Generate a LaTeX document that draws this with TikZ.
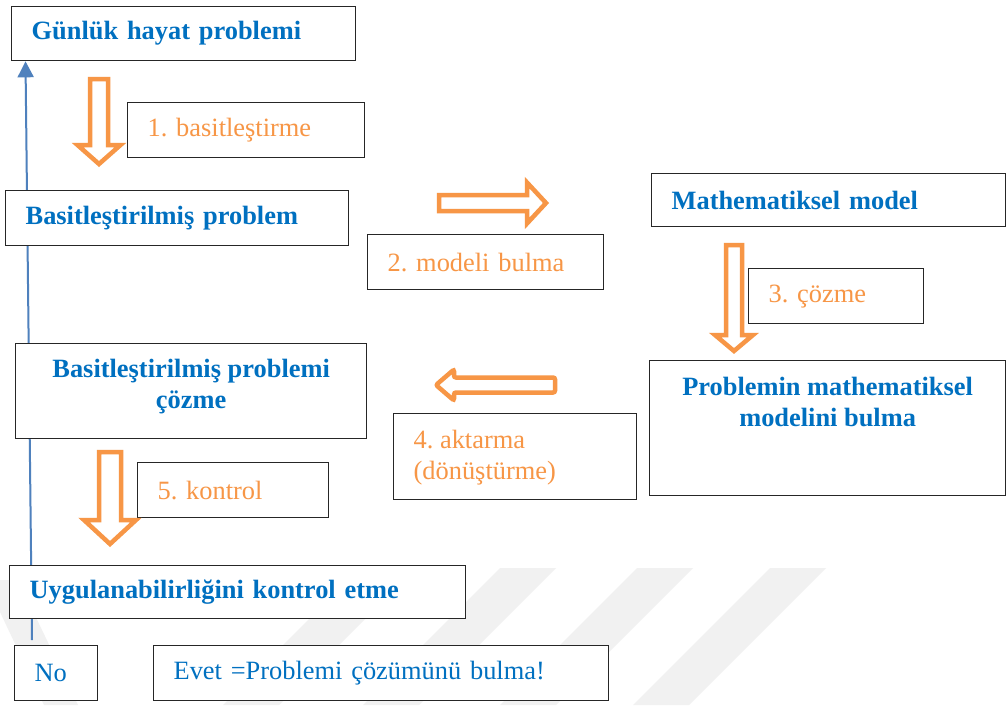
\documentclass[tikz,border=0pt]{standalone}
\usepackage{fontspec}
\setmainfont{Liberation Serif}
\usetikzlibrary{arrows.meta,calc}
\pgfdeclarelayer{background}
\pgfsetlayers{background,main}
\definecolor{hblue}{HTML}{0070C0}
\definecolor{lblue}{HTML}{4F81BD}
\definecolor{orng}{HTML}{F79646}
\definecolor{wmgray}{HTML}{F1F1F1}
\newcommand\fsz{\fontsize{26.4}{30.4}\selectfont\frenchspacing}
\newcommand\blkdown[6]{\draw[blk] (#1-#3,#2) -- (#1+#3,#2) -- (#1+#3,#4) -- (#1+#5,#4) -- (#1,#6) -- (#1-#5,#4) -- (#1-#3,#4) -- cycle;}
\newcommand\blkside[6]{\draw[blk] (#2,#1-#3) -- (#4,#1-#3) -- (#4,#1-#5) -- (#6,#1) -- (#4,#1+#5) -- (#4,#1+#3) -- (#2,#1+#3) -- cycle;}
\tikzset{
  box/.style={draw=black!85, line width=1.3pt, fill=white, anchor=north west,
    inner xsep=20pt, inner ysep=0pt, align=left, font=\fsz},
  hdr/.style={box, text=hblue, font=\fsz\bfseries},
  lbl/.style={box, text=orng},
  plain/.style={box, text=hblue},
  mbox/.style={draw=black!85, line width=1.3pt, fill=white, anchor=north west, inner sep=0pt},
  blk/.style={draw=orng, line width=4.5pt, fill=white, line join=miter},
  link/.style={draw=lblue, line width=2pt, -{Triangle[width=16pt,length=16pt]}},
  band/.style={fill=wmgray, draw=none}
}
\begin{document}
\begin{tikzpicture}[x=1pt,y=-1pt]
\begin{pgfonlayer}{background}
\fill[white] (0,0) rectangle (1007,705);
% faint watermark bands
\foreach \t in {360,500,637,770}
  \fill[band] (\t,568) -- (\t+56,568) -- (\t+56-137,705) -- (\t-137,705) -- cycle;
\fill[band] (0,580) -- (18,580) -- (78,705) -- (44,705) -- (0,612) -- cycle;
\end{pgfonlayer}
\useasboundingbox (0,0) rectangle (1007,705);

% boxes
\node[hdr, text width=304pt, minimum height=54pt] (g) at (11,6) {Günlük hayat problemi};
\node[lbl, text width=197pt, minimum height=55pt] (s1) at (127,102) {1. basitleştirme};
\node[hdr, text width=303pt, minimum height=55pt] (bp) at (5,190) {Basitleştirilmiş problem};
\node[lbl, text width=196pt, minimum height=55pt] (s2) at (367,234) {2. modeli bulma};
\node[hdr, text width=314pt, minimum height=53pt] (mm) at (651,173) {Mathematiksel model};
\node[lbl, text width=135pt, minimum height=55pt] (s3) at (748,268) {3. çözme};
\node[mbox, text=hblue] (pm) at (649,360)
  {\parbox[c][135pt][t]{356pt}{\vspace*{17pt}\centering\fsz\bfseries Problemin mathematiksel\\modelini bulma}};
\node[mbox, text=orng] (s4) at (393,413)
  {\parbox[c][86pt][t]{243pt}{\vspace*{17pt}\raggedright\leftskip=20pt\relax\fsz 4. aktarma\\(dönüştürme)}};
\node[mbox, text=hblue] (bc) at (15,343)
  {\parbox[c][95pt][t]{351pt}{\vspace*{16pt}\centering\fsz\bfseries Basitleştirilmiş problemi\\çözme}};
\node[lbl, text width=151pt, minimum height=55pt] (s5) at (137,462) {5. kontrol};
\node[hdr, text width=416pt, minimum height=53pt] (uk) at (9,565) {Uygulanabilirliğini kontrol etme};
\node[plain, text width=43pt, minimum height=55pt] (no) at (14,645) {No};
\node[plain, text width=415pt, minimum height=55pt] (ev) at (153,645) {Evet =Problemi çözümünü bulma!};

% blue feedback line (behind the boxes)
\coordinate (noend) at (32,640);
\begin{pgfonlayer}{background}
\draw[link] (noend) -- ($(g.south west)+(14.5,0)$);
\end{pgfonlayer}

% orange block arrows
\blkdown{99}{79}{9}{145}{21.5}{164}
\blkside{203}{439}{8}{527}{20.5}{546}
\blkdown{734}{245}{8}{335}{19}{351}
\begin{scope}[rounded corners=2pt]
\blkside{385}{555}{7.5}{454}{15.5}{436}
\end{scope}
\blkdown{110}{452}{11}{520}{26}{544}
\end{tikzpicture}
\end{document}
